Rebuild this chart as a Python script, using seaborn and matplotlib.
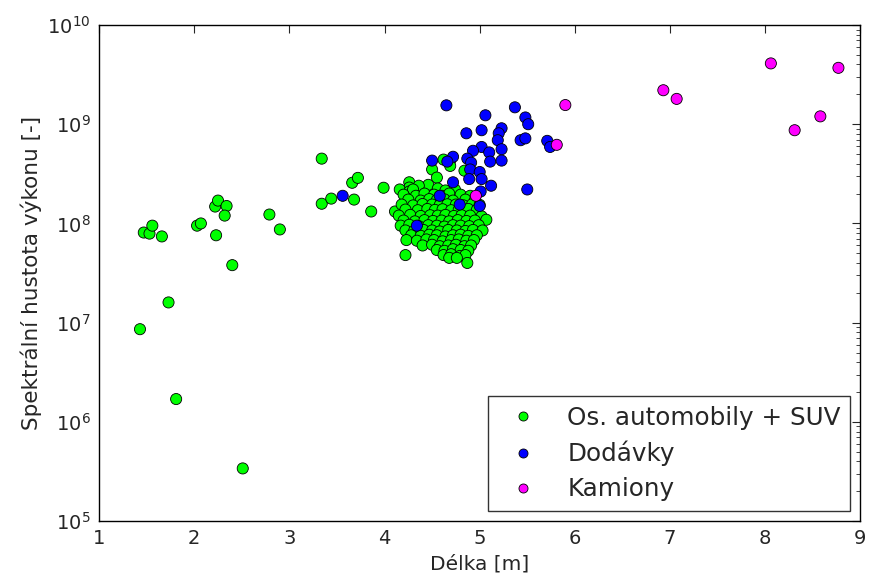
import numpy as np
import pandas as pd
import matplotlib
matplotlib.use("Agg")
import matplotlib.pyplot as plt
import seaborn as sns

# Délka vozidla [m] a spektrální hustota výkonu [-] pro jednotlivé třídy
car_len = [1.43, 1.47, 1.53, 1.56, 1.66, 1.73, 1.81, 2.03, 2.07, 2.22, 2.25, 2.23,
           2.34, 2.32, 2.40, 2.51, 2.79, 2.90, 3.34, 3.34, 3.44, 3.66, 3.72, 3.68,
           3.86, 3.99, 4.11,
           4.62, 4.69, 4.69, 4.50, 4.84, 4.55, 4.26, 4.46, 4.26, 4.36,
           4.16, 4.26, 4.30, 4.56, 4.64, 4.74,
           4.20, 4.33, 4.42, 4.52, 4.60, 4.68, 4.80, 4.90,
           4.25, 4.38, 4.47, 4.55, 4.63, 4.72, 4.85, 4.95,
           4.18, 4.30, 4.40, 4.50, 4.58, 4.66, 4.75, 4.83, 4.92, 5.00,
           4.22, 4.35, 4.45, 4.53, 4.61, 4.70, 4.78, 4.88, 4.97,
           4.15, 4.27, 4.38, 4.48, 4.56, 4.64, 4.73, 4.81, 4.90, 5.02,
           4.20, 4.32, 4.42, 4.51, 4.60, 4.68, 4.77, 4.86, 4.95, 5.07,
           4.17, 4.26, 4.36, 4.46, 4.55, 4.63, 4.72, 4.80, 4.89, 4.99,
           4.22, 4.31, 4.41, 4.50, 4.58, 4.67, 4.76, 4.85, 4.93, 5.03,
           4.28, 4.38, 4.47, 4.55, 4.64, 4.72, 4.80, 4.88, 4.97,
           4.23, 4.34, 4.44, 4.52, 4.61, 4.70, 4.78, 4.86, 4.94,
           4.40, 4.50, 4.58, 4.67, 4.75, 4.84, 4.91,
           4.55, 4.63, 4.72, 4.80, 4.88,
           4.62, 4.70, 4.79, 4.85,
           4.22, 4.68, 4.76, 4.87]
car_psd = [8.6e6, 8.1e7, 7.9e7, 9.5e7, 7.4e7, 1.6e7, 1.7e6, 9.5e7, 1.0e8, 1.48e8, 1.7e8, 7.6e7,
           1.5e8, 1.2e8, 3.8e7, 3.4e5, 1.23e8, 8.7e7, 4.5e8, 1.58e8, 1.78e8, 2.57e8, 2.88e8, 1.74e8,
           1.32e8, 2.29e8, 1.32e8,
           4.4e8, 4.3e8, 3.8e8, 3.5e8, 3.4e8, 2.9e8, 2.6e8, 2.45e8, 2.3e8, 2.4e8,
           2.2e8, 2.1e8, 2.2e8, 2.25e8, 2.15e8, 2.2e8,
           1.95e8, 1.9e8, 2.0e8, 1.95e8, 1.9e8, 2.0e8, 1.95e8, 1.9e8,
           1.74e8, 1.7e8, 1.76e8, 1.72e8, 1.75e8, 1.7e8, 1.74e8, 1.72e8,
           1.55e8, 1.52e8, 1.57e8, 1.55e8, 1.53e8, 1.56e8, 1.55e8, 1.52e8, 1.56e8, 1.54e8,
           1.38e8, 1.36e8, 1.4e8, 1.37e8, 1.39e8, 1.36e8, 1.38e8, 1.4e8, 1.37e8,
           1.2e8, 1.22e8, 1.19e8, 1.21e8, 1.2e8, 1.22e8, 1.19e8, 1.21e8, 1.2e8, 1.18e8,
           1.07e8, 1.05e8, 1.08e8, 1.06e8, 1.07e8, 1.05e8, 1.08e8, 1.06e8, 1.07e8, 1.09e8,
           9.5e7, 9.7e7, 9.4e7, 9.6e7, 9.5e7, 9.3e7, 9.6e7, 9.5e7, 9.4e7, 9.6e7,
           8.5e7, 8.4e7, 8.6e7, 8.5e7, 8.3e7, 8.6e7, 8.5e7, 8.4e7, 8.6e7, 8.5e7,
           7.6e7, 7.5e7, 7.7e7, 7.6e7, 7.4e7, 7.6e7, 7.7e7, 7.5e7, 7.6e7,
           6.8e7, 6.7e7, 6.9e7, 6.8e7, 6.6e7, 6.8e7, 6.9e7, 6.7e7, 6.8e7,
           6.0e7, 6.1e7, 5.9e7, 6.0e7, 6.1e7, 5.9e7, 6.0e7,
           5.4e7, 5.3e7, 5.5e7, 5.4e7, 5.3e7,
           4.8e7, 4.9e7, 4.7e7, 4.8e7,
           4.8e7, 4.5e7, 4.5e7, 4.0e7]

van_len = [3.56, 4.65, 5.37, 5.06, 5.48, 5.51, 5.02, 4.86, 5.23, 5.20, 5.19, 5.43,
           5.48, 5.71, 5.74, 5.23, 5.02, 4.93, 5.10, 4.72, 4.66, 4.50, 4.87, 4.91,
           5.11, 5.23, 4.90, 5.00, 4.89, 5.02, 5.12, 4.72, 5.50, 5.01, 4.58, 4.79,
           5.00, 4.34]
van_psd = [1.9e8, 1.55e9, 1.48e9, 1.23e9, 1.17e9, 1.0e9, 8.7e8, 8.1e8, 9.1e8, 8.1e8, 6.9e8, 6.9e8,
           7.2e8, 6.8e8, 5.9e8, 5.6e8, 5.9e8, 5.4e8, 5.2e8, 4.7e8, 4.2e8, 4.3e8, 4.5e8, 4.1e8,
           4.2e8, 4.3e8, 3.5e8, 3.3e8, 2.8e8, 2.8e8, 2.4e8, 2.6e8, 2.2e8, 2.1e8, 1.9e8, 1.55e8,
           1.5e8, 9.5e7]

truck_len = [5.90, 6.93, 7.07, 8.06, 8.31, 8.58, 8.77, 5.81, 4.96]
truck_psd = [1.56e9, 2.2e9, 1.8e9, 4.1e9, 8.7e8, 1.2e9, 3.7e9, 6.2e8, 1.9e8]

class_names = ["Os. automobily + SUV", "Dodávky", "Kamiony"]
class_colors = ["#00ff00", "#0000ff", "#ff00ff"]

df = pd.DataFrame({
    "delka": car_len + van_len + truck_len,
    "psd": car_psd + van_psd + truck_psd,
    "trida": [class_names[0]] * len(car_len) + [class_names[1]] * len(van_len)
             + [class_names[2]] * len(truck_len),
})

sns.set_style("white")
plt.rcParams["font.family"] = ["DejaVu Sans"]
plt.rcParams.update({
    "xtick.direction": "in", "ytick.direction": "in",
    "xtick.top": True, "ytick.right": True,
    "xtick.major.size": 6, "ytick.major.size": 6,
    "xtick.minor.size": 3, "ytick.minor.size": 3,
    "axes.edgecolor": "black", "axes.linewidth": 1.0,
})

fig = plt.figure(figsize=(8.69, 5.81), dpi=100)
ax = fig.add_axes([0.114, 0.103, 0.876, 0.854])

sns.scatterplot(data=df, x="delka", y="psd", hue="trida", hue_order=class_names,
                palette=dict(zip(class_names, class_colors)), s=64,
                edgecolor="black", linewidth=0.6, ax=ax, legend=False, zorder=3)

ax.set_yscale("log")
ax.set_xlim(1, 9)
ax.set_ylim(1e5, 1e10)
ax.set_xticks(range(1, 10))
ax.tick_params(axis="both", which="major", labelsize=14, pad=6)
ax.set_xlabel("Délka [m]", fontsize=14.5)
ax.set_ylabel("Spektrální hustota výkonu [-]", fontsize=15.5)

handles = [plt.Line2D([], [], linestyle="none", marker="o", markersize=6.5,
                      markerfacecolor=c, markeredgecolor="black", markeredgewidth=0.6)
           for c in class_colors]
leg = ax.legend(handles, class_names, loc="lower right", fontsize=17.7,
                frameon=True, fancybox=False, borderpad=0.4, handlelength=2.0,
                handletextpad=0.8, labelspacing=0.45, borderaxespad=0.4)
leg.get_frame().set_edgecolor("black")
leg.get_frame().set_linewidth(1.0)

fig.savefig("out.png", dpi=100)
